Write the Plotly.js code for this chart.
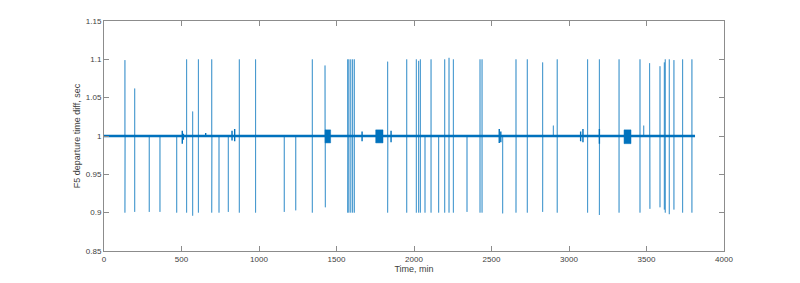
<!DOCTYPE html>
<html>
<head>
<meta charset="utf-8">
<script src="https://cdn.plot.ly/plotly-3.0.1.min.js"></script>
<style>html,body{margin:0;padding:0;background:#fff;}#chart{width:800px;height:283px;}</style>
</head>
<body>
<div id="chart"></div>
<script>
// Recording span (minutes)
var recordStart = 0;
var recordEnd = 3813;
var nominalDiff = 1.0;

// Large glitches: time (min), highest value, lowest value (sec)
var spikeTime = [135, 137, 198, 292, 361, 469, 533, 572, 609, 695, 697, 742, 802, 873, 978,
  1163, 1237, 1344, 1426, 1428, 1572, 1574, 1580, 1592, 1594, 1604, 1615, 1830, 1832, 1953,
  2015, 2030, 2041, 2071, 2110, 2159, 2198, 2226, 2254, 2342, 2426, 2439, 2572, 2658, 2659,
  2731, 2830, 2831, 2899, 2924, 3120, 3196, 3197, 3323, 3458, 3482, 3520, 3522, 3587, 3615, 3621,
  3647, 3677, 3733, 3793];
var spikeHigh = [1.099, 1.098, 1.062, 1.0, 1.0, 1.0, 1.1, 1.032, 1.1, 1.1, 1.099, 1.0, 1.0, 1.1, 1.1,
  1.0, 1.0, 1.1, 1.092, 1.091, 1.1, 1.1, 1.1, 1.1, 1.1, 1.1, 1.1, 1.097, 1.096, 1.1,
  1.1, 1.098, 1.1, 1.0, 1.1, 1.0, 1.1, 1.102, 1.1, 1.0, 1.1, 1.1, 1.0, 1.1, 1.1,
  1.1, 1.096, 1.095, 1.0136, 1.1, 1.1, 1.1, 1.1, 1.1, 1.1, 1.0136, 1.095, 1.092, 1.091, 1.096, 1.1,
  1.1, 1.099, 1.1, 1.1];
var spikeLow = [0.900, 0.901, 0.901, 0.901, 0.901, 0.900, 0.9, 0.896, 0.9, 0.9, 0.9, 0.9, 0.901, 0.9, 0.9,
  0.901, 0.903, 0.9, 0.908, 0.907, 0.9, 0.9, 0.9, 0.9, 0.9, 0.9, 0.9, 0.9, 0.901, 0.9,
  0.9, 0.9, 0.9, 0.9, 0.9, 0.9, 0.9, 0.9, 0.9, 0.901, 0.9, 0.9, 0.899, 0.9, 0.9,
  0.9, 0.901, 0.902, 1.0, 0.9, 0.9, 0.897, 0.898, 0.9, 0.9, 1.0, 0.907, 0.905, 0.907, 0.904, 0.9,
  0.898, 0.904, 0.9, 0.9];

// Small jitter bursts around the nominal value
var burstTime = [505, 512, 656, 826, 843, 1665, 1852, 2550, 2560, 3075, 3090, 3196];
var burstHigh = [1.007, 1.003, 1.004, 1.007, 1.009, 1.006, 1.007, 1.009, 1.006, 1.006, 1.009, 1.009];
var burstLow = [0.990, 0.995, 1.0, 0.994, 0.993, 0.993, 0.992, 0.991, 0.992, 0.993, 0.992, 0.990];

// Periods of dense jitter
var blockStart = [1426, 1753, 3355];
var blockEnd = [1462, 1800, 3400];
var blockHigh = [1.008, 1.008, 1.008];
var blockLow = [0.991, 0.991, 0.990];

var xTickVals = [0, 500, 1000, 1500, 2000, 2500, 3000, 3500, 4000];
var yTickVals = [0.85, 0.9, 0.95, 1, 1.05, 1.1, 1.15];

var blue = '#0072BD';

function verticalPath(times, highs, lows) {
  var x = [recordStart], y = [nominalDiff];
  for (var i = 0; i < times.length; i++) {
    x.push(times[i], times[i], times[i], times[i]);
    y.push(nominalDiff, highs[i], lows[i], nominalDiff);
  }
  x.push(recordEnd); y.push(nominalDiff);
  return {x: x, y: y};
}

var traces = [];
var sp = verticalPath(spikeTime, spikeHigh, spikeLow);
traces.push({x: sp.x, y: sp.y, type: 'scatter', mode: 'lines',
  line: {color: blue, width: 0.5}, hoverinfo: 'skip'});

traces.push({x: [recordStart, recordEnd], y: [nominalDiff, nominalDiff], type: 'scatter', mode: 'lines',
  line: {color: blue, width: 2.5}, hoverinfo: 'skip'});

var bp = verticalPath(burstTime, burstHigh, burstLow);
traces.push({x: bp.x, y: bp.y, type: 'scatter', mode: 'lines',
  line: {color: blue, width: 1.4}, hoverinfo: 'skip'});

for (var b = 0; b < blockStart.length; b++) {
  traces.push({
    x: [blockStart[b], blockStart[b], blockEnd[b], blockEnd[b], blockStart[b]],
    y: [blockLow[b], blockHigh[b], blockHigh[b], blockLow[b], blockLow[b]],
    type: 'scatter', mode: 'lines', fill: 'toself', fillcolor: blue,
    line: {color: blue, width: 0.5}, hoverinfo: 'skip'
  });
}

var axisCommon = {
  showline: true, linecolor: '#8c8c8c', linewidth: 1, mirror: 'ticks',
  ticks: 'inside', ticklen: 5, tickcolor: '#8c8c8c', tickwidth: 1,
  showgrid: false, zeroline: false,
  tickfont: {family: 'Liberation Sans, Arial, sans-serif', size: 8, color: '#404040'}
};

var layout = {
  width: 800, height: 283,
  margin: {l: 104, r: 76, t: 21, b: 32, pad: 0},
  paper_bgcolor: '#ffffff', plot_bgcolor: '#ffffff',
  showlegend: false,
  xaxis: Object.assign({}, axisCommon, {
    range: [0, 4000], tickvals: xTickVals, ticktext: xTickVals.map(String),
    title: {text: 'Time, min', standoff: 2,
      font: {family: 'Liberation Sans, Arial, sans-serif', size: 9, color: '#404040'}}
  }),
  yaxis: Object.assign({}, axisCommon, {
    range: [0.85, 1.15], tickvals: yTickVals, ticktext: yTickVals.map(String),
    title: {text: 'F5 departure time diff, sec', standoff: 3,
      font: {family: 'Liberation Sans, Arial, sans-serif', size: 9, color: '#404040'}}
  })
};

Plotly.newPlot('chart', traces, layout, {staticPlot: true, displayModeBar: false});
</script>
</body>
</html>
